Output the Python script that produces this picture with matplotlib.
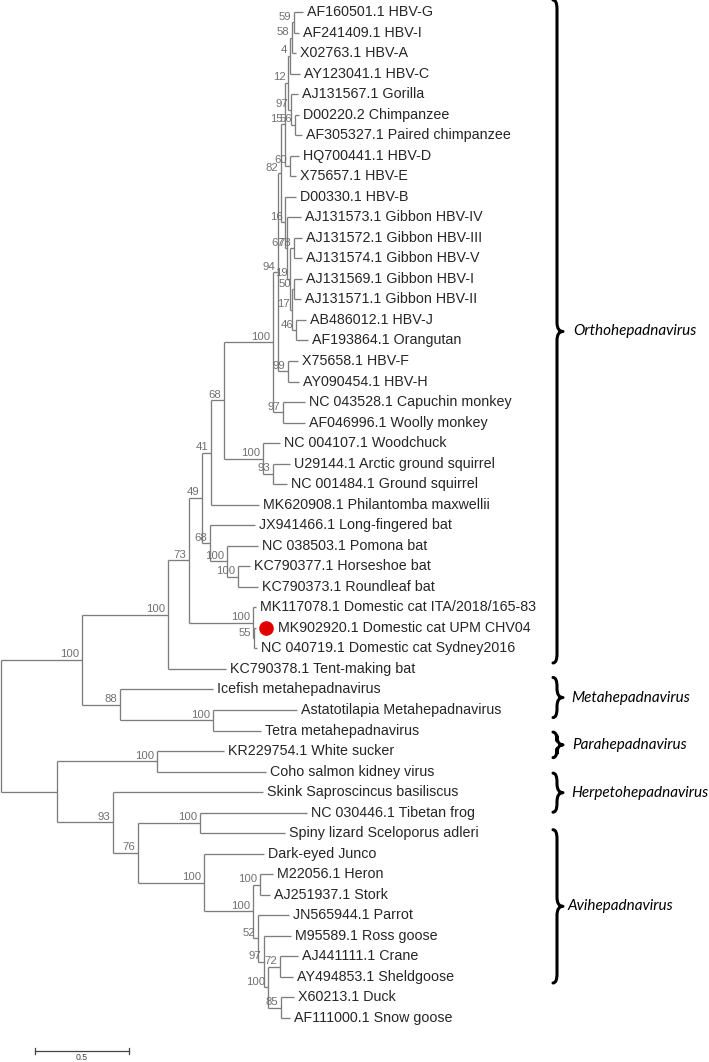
import matplotlib
matplotlib.use("Agg")
import matplotlib.pyplot as plt
from matplotlib.path import Path
from matplotlib.patches import PathPatch

# ---------------- data: tree in Newick pieces (branch lengths, bootstrap) ----
hbv_AtoC = ("(((AF160501.1 HBV-G:0.0479,AF241409.1 HBV-I:0.0266)59:0.0106,"
            "X02763.1 HBV-A:0.0213)58:0.0106,AY123041.1 HBV-C:0.0532)4:0.0106")
apes = ("(AJ131567.1 Gorilla:0.0372,(D00220.2 Chimpanzee:0.0213,"
        "AF305327.1 Paired chimpanzee:0.0372)56:0.0213)97:0.0160")
hbv_DE = "(HQ700441.1 HBV-D:0.0479,X75657.1 HBV-E:0.0319)60:0.0266"
gibbons = ("(D00330.1 HBV-B:0.0585,(AJ131573.1 Gibbon HBV-IV:0.0745,"
           "((AJ131572.1 Gibbon HBV-III:0.0426,AJ131574.1 Gibbon HBV-V:0.0426)78:0.0213,"
           "((AJ131569.1 Gibbon HBV-I:0.0426,AJ131571.1 Gibbon HBV-II:0.0372)50:0.0106,"
           "(AB486012.1 HBV-J:0.0532,AF193864.1 Orangutan:0.0638)46:0.0213)17:0.0106)19:0.0160)67:0.0106)16:0.0213")
hbv_FH = "(X75658.1 HBV-F:0.0532,AY090454.1 HBV-H:0.0585)99:0.0532"
nwm = "(NC 043528.1 Capuchin monkey:0.1170,AF046996.1 Woolly monkey:0.1170)97:0.0532"
primate = f"(((({hbv_AtoC},{apes})12:0.0160,{hbv_DE})15:0.0213,{gibbons})82:0.0160,{hbv_FH})94:0.0266"
hbv_group = f"({primate},{nwm})100:0.2606"
rodents = ("(NC 004107.1 Woodchuck:0.0904,(U29144.1 Arctic ground squirrel:0.0904,"
           "NC 001484.1 Ground squirrel:0.0745)93:0.0532)100:0.2074")
bats = ("(JX941466.1 Long-fingered bat:0.2394,(NC 038503.1 Pomona bat:0.1649,"
        "(KC790377.1 Horseshoe bat:0.0638,KC790373.1 Roundleaf bat:0.1064)100:0.0585)100:0.0904)68:0.0426")
cats = ("(MK117078.1 Domestic cat ITA/2018/165-83:0.0160,(MK902920.1 Domestic cat UPM CHV04:0.0106,"
        "NC 040719.1 Domestic cat Sydney2016:0.0160)55:0.0053)100:0.3404")
ortho = (f"((((({hbv_group},{rodents})68:0.0691,MK620908.1 Philantomba maxwellii:0.2553)41:0.0479,"
         f"{bats})49:0.0691,{cats})73:0.1117,KC790378.1 Tent-making bat:0.3085)100:0.4574")
meta = ("(Icefish metahepadnavirus:0.4947,(Astatotilapia Metahepadnavirus:0.4468,"
        "Tetra metahepadnavirus:0.2553)100:0.4947)88:0.2021")
para = "(KR229754.1 White sucker:0.3564,Coho salmon kidney virus:0.5798)100:0.5319"
herp = "(NC 030446.1 Tibetan frog:0.5691,Spiny lizard Sceloporus adleri:0.4521)100:0.3298"
avi = ("(Dark-eyed Junco:0.3191,((M22056.1 Heron:0.0691,AJ251937.1 Stork:0.0532)100:0.0372,"
       "(JN565944.1 Parrot:0.1649,(M95589.1 Ross goose:0.1436,((AJ441111.1 Crane:0.0957,"
       "AY494853.1 Sheldgoose:0.0691)72:0.0638,(X60213.1 Duck:0.0691,AF111000.1 Snow goose:0.0479)85:0.0691)"
       "100:0.0213)97:0.0319)52:0.0266)100:0.2606)100:0.3511")
tree_newick = (f"(({ortho},{meta})100:0.4309,({para},(Skink Saproscincus basiliscus:0.7979,"
               f"({herp},{avi})76:0.1330)93:0.2979):0.2979);")

marked_leaves = ["MK902920.1 Domestic cat UPM CHV04"]

clade_names = ["Orthohepadnavirus", "Metahepadnavirus", "Parahepadnavirus",
               "Herpetohepadnavirus", "Avihepadnavirus"]
clade_first_leaf = [0, 33, 36, 38, 41]
clade_last_leaf = [32, 35, 37, 40, 49]

scale_bar_length = 0.5
scale_bar_label = "0.5"

# ---------------- style / layout ----------------
W, H, DPI = 709, 1062, 100
PXX = 188.0          # pixels per substitution unit
PXY = 20.53          # pixels per leaf row
Y0PX = 12.0          # y pixel of first leaf
X0PX = 1.0           # x pixel of root
brace_top_off = [-12, -12, -19, -19, -24]   # px
brace_bot_off = [-6, -13, -14, -21, -35]    # px
brace_x_px = 557
label_x_px = [573, 571, 572, 571, 568]

BRANCH_COL = "#7d7d7d"
TEXT_COL = "#262626"
BOOT_COL = "#707070"

# ---------------- parse newick ----------------
def parse_newick(s):
    s = s.strip().rstrip(";")
    pos = 0

    def node():
        nonlocal pos
        children = []
        if s[pos] == "(":
            pos += 1
            while True:
                children.append(node())
                if s[pos] == ",":
                    pos += 1
                    continue
                if s[pos] == ")":
                    pos += 1
                    break
        start = pos
        while pos < len(s) and s[pos] not in ":,)":
            pos += 1
        name = s[start:pos].strip()
        length = 0.0
        if pos < len(s) and s[pos] == ":":
            pos += 1
            start = pos
            while pos < len(s) and s[pos] not in ",)":
                pos += 1
            length = float(s[start:pos])
        return {"name": name, "length": length, "children": children}

    return node()

root = parse_newick(tree_newick)

leaves = []
def layout(n, x0):
    n["x"] = x0 + n["length"]
    if not n["children"]:
        n["y"] = float(len(leaves))
        leaves.append(n)
    else:
        for c in n["children"]:
            layout(c, n["x"])
        n["y"] = (n["children"][0]["y"] + n["children"][-1]["y"]) / 2.0
root["length"] = 0.0
layout(root, 0.0)

# ---------------- figure ----------------
fig = plt.figure(figsize=(W / DPI, H / DPI), dpi=DPI)
ax = fig.add_axes([0, 0, 1, 1])
ax.set_xlim(-X0PX / PXX, (W - X0PX) / PXX)
ax.set_ylim((H - Y0PX) / PXY, -Y0PX / PXY)
ax.axis("off")

px = 1.0 / PXX
py = 1.0 / PXY

def draw(n, parent_x):
    if parent_x is not None:
        ax.plot([parent_x, n["x"]], [n["y"], n["y"]], color=BRANCH_COL, lw=0.95,
                solid_capstyle="butt")
    if n["children"]:
        ys = [c["y"] for c in n["children"]]
        ax.plot([n["x"], n["x"]], [min(ys), max(ys)], color=BRANCH_COL, lw=0.95,
                solid_capstyle="butt")
        if n["name"] and parent_x is not None:
            ax.text(n["x"] - 2.5 * px, n["y"] - 5.5 * py, n["name"], ha="right", va="center",
                    fontsize=8.2, color=BOOT_COL, family="Liberation Sans")
        for c in n["children"]:
            draw(c, n["x"])
    else:
        off = 4
        if n["name"] in marked_leaves:
            ax.plot(n["x"] + 10 * px, n["y"], "o", color="#e00000", ms=9.5, mec="#e00000")
            off = 22
        ax.text(n["x"] + off * px, n["y"], n["name"], ha="left", va="center",
                fontsize=10.3, color=TEXT_COL, family="Liberation Sans")

draw(root, None)

# ---------------- clade braces ----------------
def brace(xs, y0, y1, hook, tip, r):
    ym = (y0 + y1) / 2
    verts = [(xs - hook, y0), (xs, y0), (xs, y0 + r),
             (xs, ym - r), (xs, ym), (xs + tip, ym),
             (xs, ym), (xs, ym + r),
             (xs, y1 - r), (xs, y1), (xs - hook, y1)]
    codes = [Path.MOVETO, Path.CURVE3, Path.CURVE3,
             Path.LINETO, Path.CURVE3, Path.CURVE3,
             Path.CURVE3, Path.CURVE3,
             Path.LINETO, Path.CURVE3, Path.CURVE3]
    ax.add_patch(PathPatch(Path(verts, codes), fill=False, lw=2.2, color="black",
                           capstyle="round", joinstyle="round"))

for i, name in enumerate(clade_names):
    y0 = leaves[clade_first_leaf[i]]["y"] + brace_top_off[i] * py
    y1 = leaves[clade_last_leaf[i]]["y"] + brace_bot_off[i] * py
    xs = (brace_x_px - X0PX) * px
    brace(xs, y0, y1, 4 * px, 6 * px, 9 * py)
    ax.text((label_x_px[i] - X0PX) * px, (y0 + y1) / 2, name, ha="left", va="center",
            fontsize=11, style="italic", family="Lato", color="black")

# ---------------- scale bar ----------------
sb_x0 = (35 - X0PX) * px
sb_y = (1051 - Y0PX) * py
ax.plot([sb_x0, sb_x0 + scale_bar_length], [sb_y, sb_y], color="#444444", lw=0.9)
for xx in (sb_x0, sb_x0 + scale_bar_length):
    ax.plot([xx, xx], [sb_y - 3 * py, sb_y + 3 * py], color="#444444", lw=0.9)
ax.text(sb_x0 + scale_bar_length / 2, sb_y + 7 * py, scale_bar_label, ha="center", va="center",
        fontsize=6.3, color="#444444", family="Liberation Sans")

fig.savefig("out.png", dpi=DPI, facecolor="white")
